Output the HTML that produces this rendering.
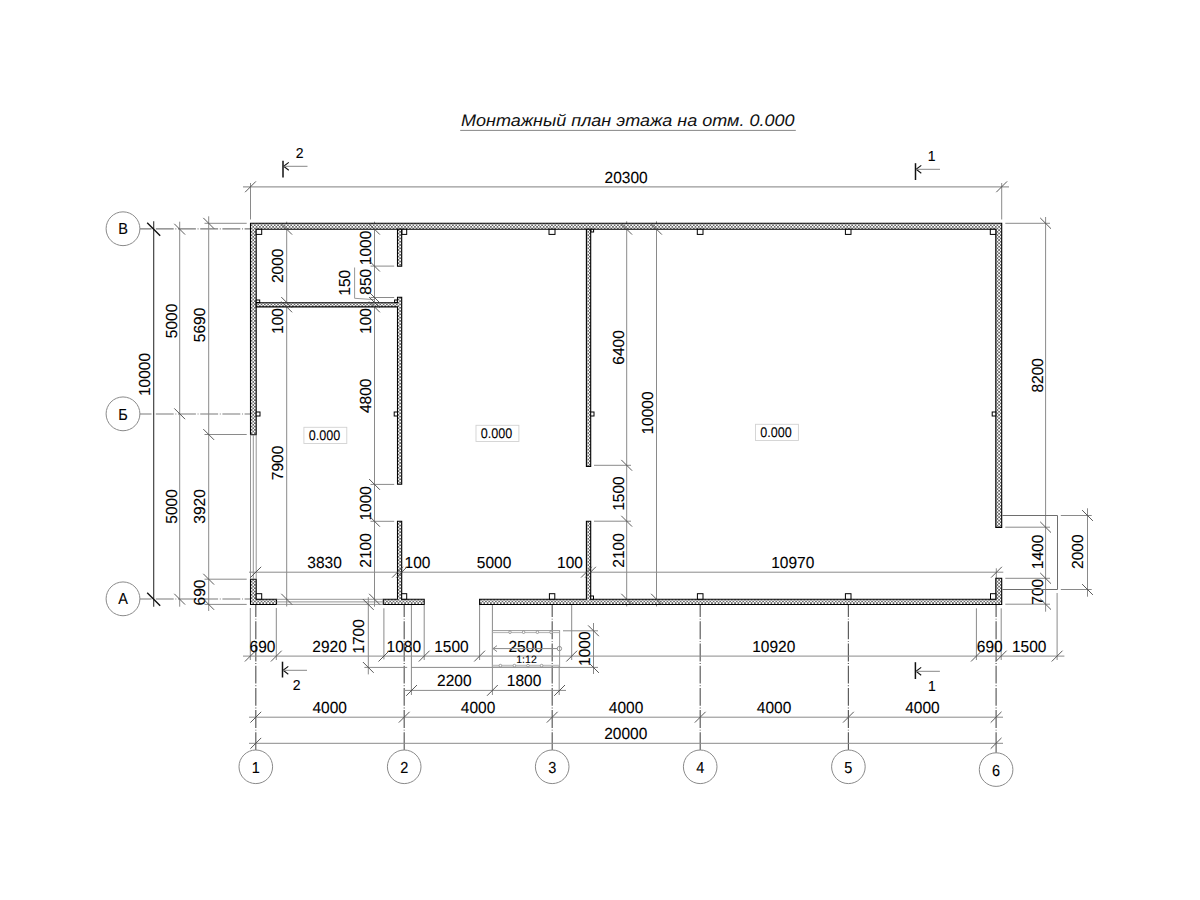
<!DOCTYPE html><html><head><meta charset="utf-8"><style>html,body{margin:0;padding:0;background:#fff;}svg{display:block;} text{font-family:"Liberation Sans",sans-serif;text-rendering:geometricPrecision;}</style></head><body>
<svg width="1200" height="900" viewBox="0 0 1200 900">
<defs><pattern id="hatch" width="3.3" height="3.3" patternUnits="userSpaceOnUse"><rect width="3.3" height="3.3" fill="#fff"/><rect x="0" y="0" width="1.65" height="1.65" fill="#6a6a6a"/><rect x="1.65" y="1.65" width="1.65" height="1.65" fill="#6a6a6a"/></pattern></defs>
<rect width="1200" height="900" fill="#fff"/>
<text x="461" y="125.8" font-size="16.7" font-style="italic" fill="#111" textLength="333.5" lengthAdjust="spacingAndGlyphs">Монтажный план этажа на отм. 0.000</text>
<line x1="460.2" y1="130.4" x2="795.8" y2="130.4" stroke="#888" stroke-width="1" />
<line x1="133.6" y1="228.9" x2="250" y2="228.9" stroke="#7a7a7a" stroke-width="1.2" stroke-dasharray="17.9 1.7 0.9 1.7"/>
<line x1="133.6" y1="414.0" x2="250" y2="414.0" stroke="#7a7a7a" stroke-width="1.2" stroke-dasharray="17.9 1.7 0.9 1.7"/>
<line x1="133.6" y1="599.0" x2="250" y2="599.0" stroke="#7a7a7a" stroke-width="1.2" stroke-dasharray="17.9 1.7 0.9 1.7"/>
<line x1="255.8" y1="599.1" x2="255.8" y2="743.3" stroke="#5e5e5e" stroke-width="1.2" stroke-dasharray="17.9 1.7 0.9 1.7"/>
<line x1="255.8" y1="743.3" x2="255.8" y2="753" stroke="#555" stroke-width="1.1" />
<line x1="404.2" y1="599.1" x2="404.2" y2="743.3" stroke="#5e5e5e" stroke-width="1.2" stroke-dasharray="17.9 1.7 0.9 1.7"/>
<line x1="404.2" y1="743.3" x2="404.2" y2="753" stroke="#555" stroke-width="1.1" />
<line x1="552.2" y1="599.1" x2="552.2" y2="743.3" stroke="#5e5e5e" stroke-width="1.2" stroke-dasharray="17.9 1.7 0.9 1.7"/>
<line x1="552.2" y1="743.3" x2="552.2" y2="753" stroke="#555" stroke-width="1.1" />
<line x1="700.2" y1="599.1" x2="700.2" y2="743.3" stroke="#5e5e5e" stroke-width="1.2" stroke-dasharray="17.9 1.7 0.9 1.7"/>
<line x1="700.2" y1="743.3" x2="700.2" y2="753" stroke="#555" stroke-width="1.1" />
<line x1="848.4" y1="599.1" x2="848.4" y2="743.3" stroke="#5e5e5e" stroke-width="1.2" stroke-dasharray="17.9 1.7 0.9 1.7"/>
<line x1="848.4" y1="743.3" x2="848.4" y2="753" stroke="#555" stroke-width="1.1" />
<line x1="996.1" y1="599.1" x2="996.1" y2="743.3" stroke="#5e5e5e" stroke-width="1.2" stroke-dasharray="17.9 1.7 0.9 1.7"/>
<line x1="996.1" y1="743.3" x2="996.1" y2="753" stroke="#555" stroke-width="1.1" />
<line x1="243" y1="186.8" x2="1009" y2="186.8" stroke="#999" stroke-width="1.3" />
<line x1="250.5" y1="183" x2="250.5" y2="219.5" stroke="#8a8a8a" stroke-width="1.0" />
<line x1="1001.7" y1="183" x2="1001.7" y2="219.5" stroke="#8a8a8a" stroke-width="1.0" />
<text transform="translate(626.1,183.2) scale(1,1.03)" font-size="15.5" text-anchor="middle" fill="#000" stroke="#000" stroke-width="0.1" >20300</text>
<line x1="153.7" y1="221.3" x2="153.7" y2="606.7" stroke="#333" stroke-width="1.1" />
<line x1="147.2" y1="222.7" x2="160.2" y2="235.7" stroke="#111" stroke-width="1.4" />
<line x1="147.2" y1="592.7" x2="160.2" y2="605.7" stroke="#111" stroke-width="1.4" />
<text transform="translate(150.2,374.5) rotate(-90) scale(1,1.03)" font-size="15.5" text-anchor="middle" fill="#000" stroke="#000" stroke-width="0.1">10000</text>
<line x1="179.7" y1="221.7" x2="179.7" y2="606.7" stroke="#8a8a8a" stroke-width="1.0" />
<text transform="translate(176.5,321) rotate(-90) scale(1,1.03)" font-size="15.5" text-anchor="middle" fill="#000" stroke="#000" stroke-width="0.1">5000</text>
<text transform="translate(176.5,506.5) rotate(-90) scale(1,1.03)" font-size="15.5" text-anchor="middle" fill="#000" stroke="#000" stroke-width="0.1">5000</text>
<line x1="208.7" y1="216.3" x2="208.7" y2="611" stroke="#8a8a8a" stroke-width="1.0" />
<line x1="204.5" y1="223.3" x2="246.7" y2="223.3" stroke="#8a8a8a" stroke-width="1.0" />
<line x1="204.5" y1="434.5" x2="246.7" y2="434.5" stroke="#8a8a8a" stroke-width="1.0" />
<line x1="204.5" y1="579.2" x2="246.7" y2="579.2" stroke="#8a8a8a" stroke-width="1.0" />
<line x1="204.5" y1="604.4" x2="246.7" y2="604.4" stroke="#8a8a8a" stroke-width="1.0" />
<text transform="translate(205,325) rotate(-90) scale(1,1.03)" font-size="15.5" text-anchor="middle" fill="#000" stroke="#000" stroke-width="0.1">5690</text>
<text transform="translate(205,506.5) rotate(-90) scale(1,1.03)" font-size="15.5" text-anchor="middle" fill="#000" stroke="#000" stroke-width="0.1">3920</text>
<text transform="translate(205,592.5) rotate(-90) scale(1,1.03)" font-size="15.5" text-anchor="middle" fill="#000" stroke="#000" stroke-width="0.1">690</text>
<line x1="286.7" y1="221.7" x2="286.7" y2="606.5" stroke="#8a8a8a" stroke-width="1.0" />
<text transform="translate(283.3,265.8) rotate(-90) scale(1,1.03)" font-size="15.5" text-anchor="middle" fill="#000" stroke="#000" stroke-width="0.1">2000</text>
<text transform="translate(283.3,321) rotate(-90) scale(1,1.03)" font-size="15.5" text-anchor="middle" fill="#000" stroke="#000" stroke-width="0.1">100</text>
<text transform="translate(283.3,463) rotate(-90) scale(1,1.03)" font-size="15.5" text-anchor="middle" fill="#000" stroke="#000" stroke-width="0.1">7900</text>
<line x1="374.5" y1="221.7" x2="374.5" y2="606.7" stroke="#8a8a8a" stroke-width="1.0" />
<line x1="370.5" y1="266.1" x2="394.2" y2="266.1" stroke="#8a8a8a" stroke-width="1.0" />
<line x1="370.5" y1="297.5" x2="394.2" y2="297.5" stroke="#8a8a8a" stroke-width="1.0" />
<line x1="370.5" y1="484.4" x2="394.2" y2="484.4" stroke="#8a8a8a" stroke-width="1.0" />
<line x1="370.5" y1="521.3" x2="394.2" y2="521.3" stroke="#8a8a8a" stroke-width="1.0" />
<polyline points="354.6,267.5 354.6,298.3 374.2,299.6" fill="none" stroke="#999" stroke-width="1"/>
<text transform="translate(370.8,248) rotate(-90) scale(1,1.03)" font-size="15.5" text-anchor="middle" fill="#000" stroke="#000" stroke-width="0.1">1000</text>
<text transform="translate(370.8,281.7) rotate(-90) scale(1,1.03)" font-size="15.5" text-anchor="middle" fill="#000" stroke="#000" stroke-width="0.1">850</text>
<text transform="translate(350.3,282.8) rotate(-90) scale(1,1.03)" font-size="15.5" text-anchor="middle" fill="#000" stroke="#000" stroke-width="0.1">150</text>
<text transform="translate(370.8,321) rotate(-90) scale(1,1.03)" font-size="15.5" text-anchor="middle" fill="#000" stroke="#000" stroke-width="0.1">100</text>
<text transform="translate(370.8,395.8) rotate(-90) scale(1,1.03)" font-size="15.5" text-anchor="middle" fill="#000" stroke="#000" stroke-width="0.1">4800</text>
<text transform="translate(370.8,503.3) rotate(-90) scale(1,1.03)" font-size="15.5" text-anchor="middle" fill="#000" stroke="#000" stroke-width="0.1">1000</text>
<text transform="translate(370.8,550.5) rotate(-90) scale(1,1.03)" font-size="15.5" text-anchor="middle" fill="#000" stroke="#000" stroke-width="0.1">2100</text>
<line x1="368.3" y1="597.2" x2="368.3" y2="674.4" stroke="#8a8a8a" stroke-width="1.0" />
<line x1="364.4" y1="667.4" x2="407.2" y2="667.4" stroke="#8a8a8a" stroke-width="1.0" />
<line x1="411" y1="667.4" x2="598" y2="667.4" stroke="#8a8a8a" stroke-width="1.0" />
<text transform="translate(364.4,636.4) rotate(-90) scale(1,1.03)" font-size="15.5" text-anchor="middle" fill="#000" stroke="#000" stroke-width="0.1">1700</text>
<line x1="626.7" y1="221.3" x2="626.7" y2="606.5" stroke="#8a8a8a" stroke-width="1.0" />
<line x1="594" y1="465.3" x2="631" y2="465.3" stroke="#8a8a8a" stroke-width="1.0" />
<line x1="594" y1="521.2" x2="631" y2="521.2" stroke="#8a8a8a" stroke-width="1.0" />
<text transform="translate(624,347.5) rotate(-90) scale(1,1.03)" font-size="15.5" text-anchor="middle" fill="#000" stroke="#000" stroke-width="0.1">6400</text>
<text transform="translate(623.5,493.6) rotate(-90) scale(1,1.03)" font-size="15.5" text-anchor="middle" fill="#000" stroke="#000" stroke-width="0.1">1500</text>
<text transform="translate(624,550.5) rotate(-90) scale(1,1.03)" font-size="15.5" text-anchor="middle" fill="#000" stroke="#000" stroke-width="0.1">2100</text>
<line x1="656.5" y1="221.3" x2="656.5" y2="606.5" stroke="#8a8a8a" stroke-width="1.0" />
<text transform="translate(653.3,413) rotate(-90) scale(1,1.03)" font-size="15.5" text-anchor="middle" fill="#000" stroke="#000" stroke-width="0.1">10000</text>
<line x1="1045.6" y1="217" x2="1045.6" y2="611.7" stroke="#8a8a8a" stroke-width="1.0" />
<line x1="1005.3" y1="223.3" x2="1050" y2="223.3" stroke="#8a8a8a" stroke-width="1.0" />
<line x1="1005.3" y1="527.2" x2="1050" y2="527.2" stroke="#8a8a8a" stroke-width="1.0" />
<line x1="1005.3" y1="578.3" x2="1050" y2="578.3" stroke="#8a8a8a" stroke-width="1.0" />
<line x1="1005.3" y1="604.2" x2="1050" y2="604.2" stroke="#8a8a8a" stroke-width="1.0" />
<text transform="translate(1042.5,375.3) rotate(-90) scale(1,1.03)" font-size="15.5" text-anchor="middle" fill="#000" stroke="#000" stroke-width="0.1">8200</text>
<text transform="translate(1042.5,552) rotate(-90) scale(1,1.03)" font-size="15.5" text-anchor="middle" fill="#000" stroke="#000" stroke-width="0.1">1400</text>
<text transform="translate(1042.5,591.7) rotate(-90) scale(1,1.03)" font-size="15.5" text-anchor="middle" fill="#000" stroke="#000" stroke-width="0.1">700</text>
<polyline points="1002.5,515.5 1057.5,515.5 1057.5,589.5 1002.5,589.5" fill="none" stroke="#6e6e6e" stroke-width="1"/>
<line x1="1087.5" y1="508.3" x2="1087.5" y2="596.7" stroke="#8a8a8a" stroke-width="1.0" />
<line x1="1060.8" y1="515.5" x2="1091.7" y2="515.5" stroke="#8a8a8a" stroke-width="1.0" />
<line x1="1060.8" y1="589.5" x2="1091.7" y2="589.5" stroke="#8a8a8a" stroke-width="1.0" />
<text transform="translate(1083.3,551.7) rotate(-90) scale(1,1.03)" font-size="15.5" text-anchor="middle" fill="#000" stroke="#000" stroke-width="0.1">2000</text>
<line x1="249" y1="572.2" x2="1003.3" y2="572.2" stroke="#8a8a8a" stroke-width="1.0" />
<line x1="996.3" y1="568.3" x2="996.3" y2="578" stroke="#8a8a8a" stroke-width="1.0" />
<text transform="translate(324.6,568) scale(1,1.03)" font-size="15.5" text-anchor="middle" fill="#000" stroke="#000" stroke-width="0.1" >3830</text>
<text transform="translate(417.5,568) scale(1,1.03)" font-size="15.5" text-anchor="middle" fill="#000" stroke="#000" stroke-width="0.1" >100</text>
<text transform="translate(494,568.3) scale(1,1.03)" font-size="15.5" text-anchor="middle" fill="#000" stroke="#000" stroke-width="0.1" >5000</text>
<text transform="translate(570,568) scale(1,1.03)" font-size="15.5" text-anchor="middle" fill="#000" stroke="#000" stroke-width="0.1" >100</text>
<text transform="translate(792.8,568) scale(1,1.03)" font-size="15.5" text-anchor="middle" fill="#000" stroke="#000" stroke-width="0.1" >10970</text>
<line x1="243" y1="656.1" x2="1064.4" y2="656.1" stroke="#8a8a8a" stroke-width="1.0" />
<line x1="250.3" y1="608" x2="250.3" y2="660" stroke="#8a8a8a" stroke-width="1.0" />
<line x1="276.3" y1="608" x2="276.3" y2="660" stroke="#8a8a8a" stroke-width="1.0" />
<line x1="383.9" y1="608.3" x2="383.9" y2="659.4" stroke="#8a8a8a" stroke-width="1.0" />
<line x1="411.4" y1="605" x2="411.4" y2="695" stroke="#8a8a8a" stroke-width="1.0" />
<line x1="424.2" y1="605" x2="424.2" y2="660" stroke="#8a8a8a" stroke-width="1.0" />
<line x1="479.6" y1="605" x2="479.6" y2="660" stroke="#8a8a8a" stroke-width="1.0" />
<line x1="492.4" y1="605" x2="492.4" y2="695" stroke="#8a8a8a" stroke-width="1.0" />
<line x1="571.7" y1="605" x2="571.7" y2="660" stroke="#8a8a8a" stroke-width="1.0" />
<line x1="976.4" y1="608.3" x2="976.4" y2="660" stroke="#8a8a8a" stroke-width="1.0" />
<line x1="1001.2" y1="608.3" x2="1001.2" y2="660" stroke="#8a8a8a" stroke-width="1.0" />
<line x1="1057.1" y1="593" x2="1057.1" y2="660" stroke="#8a8a8a" stroke-width="1.0" />
<text transform="translate(262.5,651.7) scale(1,1.03)" font-size="15.5" text-anchor="middle" fill="#000" stroke="#000" stroke-width="0.1" >690</text>
<text transform="translate(329.6,651.7) scale(1,1.03)" font-size="15.5" text-anchor="middle" fill="#000" stroke="#000" stroke-width="0.1" >2920</text>
<text transform="translate(403.8,652) scale(1,1.03)" font-size="15.5" text-anchor="middle" fill="#000" stroke="#000" stroke-width="0.1" >1080</text>
<text transform="translate(451.4,652) scale(1,1.03)" font-size="15.5" text-anchor="middle" fill="#000" stroke="#000" stroke-width="0.1" >1500</text>
<text transform="translate(525.7,652) scale(1,1.03)" font-size="15.5" text-anchor="middle" fill="#000" stroke="#000" stroke-width="0.1" >2500</text>
<text transform="translate(773.7,652) scale(1,1.03)" font-size="15.5" text-anchor="middle" fill="#000" stroke="#000" stroke-width="0.1" >10920</text>
<text transform="translate(989.7,652) scale(1,1.03)" font-size="15.5" text-anchor="middle" fill="#000" stroke="#000" stroke-width="0.1" >690</text>
<text transform="translate(1029.2,652) scale(1,1.03)" font-size="15.5" text-anchor="middle" fill="#000" stroke="#000" stroke-width="0.1" >1500</text>
<line x1="404" y1="690.4" x2="566" y2="690.4" stroke="#8a8a8a" stroke-width="1.0" />
<line x1="559.2" y1="666" x2="559.2" y2="695" stroke="#8a8a8a" stroke-width="1.0" />
<text transform="translate(454.3,686) scale(1,1.03)" font-size="15.5" text-anchor="middle" fill="#000" stroke="#000" stroke-width="0.1" >2200</text>
<text transform="translate(524,686) scale(1,1.03)" font-size="15.5" text-anchor="middle" fill="#000" stroke="#000" stroke-width="0.1" >1800</text>
<line x1="249" y1="717.2" x2="1003" y2="717.2" stroke="#8a8a8a" stroke-width="1.0" />
<text transform="translate(329.7,713.4) scale(1,1.03)" font-size="15.5" text-anchor="middle" fill="#000" stroke="#000" stroke-width="0.1" >4000</text>
<text transform="translate(478,713.4) scale(1,1.03)" font-size="15.5" text-anchor="middle" fill="#000" stroke="#000" stroke-width="0.1" >4000</text>
<text transform="translate(626,713.4) scale(1,1.03)" font-size="15.5" text-anchor="middle" fill="#000" stroke="#000" stroke-width="0.1" >4000</text>
<text transform="translate(774,713.4) scale(1,1.03)" font-size="15.5" text-anchor="middle" fill="#000" stroke="#000" stroke-width="0.1" >4000</text>
<text transform="translate(922.4,713.4) scale(1,1.03)" font-size="15.5" text-anchor="middle" fill="#000" stroke="#000" stroke-width="0.1" >4000</text>
<line x1="249" y1="743.3" x2="1003" y2="743.3" stroke="#8a8a8a" stroke-width="1.0" />
<text transform="translate(625.8,739.3) scale(1,1.03)" font-size="15.5" text-anchor="middle" fill="#000" stroke="#000" stroke-width="0.1" >20000</text>
<rect x="492.4" y="630.6" width="67.2" height="36.5" fill="none" stroke="#999" stroke-width="1"/>
<line x1="492.4" y1="632.6" x2="559.6" y2="632.6" stroke="#aaa" stroke-width="0.9" />
<line x1="492.4" y1="665.3" x2="559.6" y2="665.3" stroke="#aaa" stroke-width="0.9" />
<circle cx="510" cy="632.2" r="1.3" fill="#fff" stroke="#888" stroke-width="0.8"/>
<circle cx="523.6" cy="632.2" r="1.3" fill="#fff" stroke="#888" stroke-width="0.8"/>
<circle cx="537.4" cy="632.2" r="1.3" fill="#fff" stroke="#888" stroke-width="0.8"/>
<circle cx="551" cy="632.2" r="1.3" fill="#fff" stroke="#888" stroke-width="0.8"/>
<circle cx="500.4" cy="665.6" r="1.3" fill="#fff" stroke="#888" stroke-width="0.8"/>
<circle cx="514.4" cy="665.6" r="1.3" fill="#fff" stroke="#888" stroke-width="0.8"/>
<circle cx="528" cy="665.6" r="1.3" fill="#fff" stroke="#888" stroke-width="0.8"/>
<circle cx="541.6" cy="665.6" r="1.3" fill="#fff" stroke="#888" stroke-width="0.8"/>
<line x1="493" y1="648.6" x2="557.5" y2="648.6" stroke="#888" stroke-width="1.0" />
<polyline points="497,645.6 493,648.6 497,651.6" fill="none" stroke="#888" stroke-width="1"/>
<circle cx="559.4" cy="648.6" r="2.2" fill="none" stroke="#888" stroke-width="0.9"/>
<text transform="translate(526.5,663) scale(1,1.03)" font-size="10.5" text-anchor="middle" fill="#000" stroke="#000" stroke-width="0.1" >1:12</text>
<line x1="593.5" y1="623" x2="593.5" y2="674" stroke="#8a8a8a" stroke-width="1.0" />
<line x1="563" y1="630.8" x2="598" y2="630.8" stroke="#8a8a8a" stroke-width="1.0" />
<text transform="translate(590.4,648.7) rotate(-90) scale(1,1.03)" font-size="15.5" text-anchor="middle" fill="#000" stroke="#000" stroke-width="0.1">1000</text>
<polygon points="250.5,223.3 1001.7,223.3 1001.7,527.4 995.8,527.4 995.8,229.3 256.2,229.3 256.2,434.7 250.5,434.7" fill="url(#hatch)" stroke="#000" stroke-width="1.1"/>
<polygon points="250.5,579.2 256.2,579.2 256.2,599.2 276.5,599.2 276.5,604.5 250.5,604.5" fill="url(#hatch)" stroke="#000" stroke-width="1.1"/>
<polygon points="256.2,302.8 397.5,302.8 397.5,297.3 401.7,297.3 401.7,484.2 397.5,484.2 397.5,306.9 256.2,306.9" fill="url(#hatch)" stroke="#000" stroke-width="1.1"/>
<polygon points="397.5,229.3 401.7,229.3 401.7,266.3 397.5,266.3" fill="url(#hatch)" stroke="#000" stroke-width="1.1"/>
<polygon points="383.3,599.2 397.5,599.2 397.5,521.3 401.7,521.3 401.7,599.2 424.2,599.2 424.2,604.5 383.3,604.5" fill="url(#hatch)" stroke="#000" stroke-width="1.1"/>
<polygon points="479.6,599.2 586.4,599.2 586.4,521.2 590.7,521.2 590.7,599.2 995.8,599.2 995.8,578.3 1001.7,578.3 1001.7,604.5 479.6,604.5" fill="url(#hatch)" stroke="#000" stroke-width="1.1"/>
<polygon points="586.4,229.3 590.7,229.3 590.7,466.4 586.4,466.4" fill="url(#hatch)" stroke="#000" stroke-width="1.1"/>
<line x1="250.5" y1="434.7" x2="250.5" y2="579.2" stroke="#888" stroke-width="0.9" />
<line x1="253.3" y1="434.7" x2="253.3" y2="579.2" stroke="#888" stroke-width="0.9" />
<line x1="256.2" y1="434.7" x2="256.2" y2="579.2" stroke="#888" stroke-width="0.9" />
<line x1="276.5" y1="599.3" x2="383.3" y2="599.3" stroke="#888" stroke-width="0.9" />
<line x1="276.5" y1="601.9" x2="383.3" y2="601.9" stroke="#888" stroke-width="0.9" />
<line x1="276.5" y1="604.4" x2="383.3" y2="604.4" stroke="#888" stroke-width="0.9" />
<rect x="256.2" y="229.3" width="5.5" height="5.1" fill="#fff" stroke="#000" stroke-width="1"/>
<rect x="402" y="229.3" width="4.7" height="5.1" fill="#fff" stroke="#000" stroke-width="1"/>
<rect x="549" y="229.3" width="6" height="5.1" fill="#fff" stroke="#000" stroke-width="1"/>
<rect x="697.3" y="229.3" width="5.7" height="5.1" fill="#fff" stroke="#000" stroke-width="1"/>
<rect x="845.4" y="229.3" width="5.6" height="5.1" fill="#fff" stroke="#000" stroke-width="1"/>
<rect x="990.3" y="229.3" width="5.5" height="5.1" fill="#fff" stroke="#000" stroke-width="1"/>
<rect x="591" y="229.3" width="2.6" height="2.7" fill="#fff" stroke="#000" stroke-width="1"/>
<rect x="256.2" y="593.7" width="5.5" height="5.5" fill="#fff" stroke="#000" stroke-width="1"/>
<rect x="401.7" y="593.7" width="5.0" height="5.5" fill="#fff" stroke="#000" stroke-width="1"/>
<rect x="549.4" y="593.7" width="5.4" height="5.5" fill="#fff" stroke="#000" stroke-width="1"/>
<rect x="697.4" y="593.7" width="5.6" height="5.5" fill="#fff" stroke="#000" stroke-width="1"/>
<rect x="845.4" y="593.7" width="5.6" height="5.5" fill="#fff" stroke="#000" stroke-width="1"/>
<rect x="990.5" y="593.7" width="5.3" height="5.5" fill="#fff" stroke="#000" stroke-width="1"/>
<rect x="590.7" y="596" width="2.8" height="3.2" fill="#fff" stroke="#000" stroke-width="1"/>
<rect x="256.2" y="412" width="3.8" height="4" fill="#fff" stroke="#000" stroke-width="1"/>
<rect x="394.2" y="412" width="3.3" height="4" fill="#fff" stroke="#000" stroke-width="1"/>
<rect x="590.7" y="412" width="3.3" height="4" fill="#fff" stroke="#000" stroke-width="1"/>
<rect x="992.2" y="412" width="3.6" height="4" fill="#fff" stroke="#000" stroke-width="1"/>
<rect x="256.2" y="300" width="3.5" height="2.5" fill="#fff" stroke="#000" stroke-width="1"/>
<rect x="394.6" y="300" width="2.7" height="2.5" fill="#fff" stroke="#000" stroke-width="1"/>
<line x1="245.1" y1="192.20000000000002" x2="255.9" y2="181.4" stroke="#474747" stroke-width="0.9"/>
<line x1="996.3000000000001" y1="192.20000000000002" x2="1007.1" y2="181.4" stroke="#474747" stroke-width="0.9"/>
<line x1="174.29999999999998" y1="223.79999999999998" x2="185.1" y2="234.6" stroke="#474747" stroke-width="0.9"/>
<line x1="174.29999999999998" y1="408.40000000000003" x2="185.1" y2="419.2" stroke="#474747" stroke-width="0.9"/>
<line x1="174.29999999999998" y1="593.8000000000001" x2="185.1" y2="604.6" stroke="#474747" stroke-width="0.9"/>
<line x1="203.29999999999998" y1="217.9" x2="214.1" y2="228.70000000000002" stroke="#474747" stroke-width="0.9"/>
<line x1="203.29999999999998" y1="429.1" x2="214.1" y2="439.9" stroke="#474747" stroke-width="0.9"/>
<line x1="203.29999999999998" y1="573.8000000000001" x2="214.1" y2="584.6" stroke="#474747" stroke-width="0.9"/>
<line x1="203.29999999999998" y1="599.0" x2="214.1" y2="609.8" stroke="#474747" stroke-width="0.9"/>
<line x1="281.3" y1="223.79999999999998" x2="292.09999999999997" y2="234.6" stroke="#474747" stroke-width="0.9"/>
<line x1="281.3" y1="297.1" x2="292.09999999999997" y2="307.9" stroke="#474747" stroke-width="0.9"/>
<line x1="281.3" y1="301.5" x2="292.09999999999997" y2="312.29999999999995" stroke="#474747" stroke-width="0.9"/>
<line x1="281.3" y1="593.8000000000001" x2="292.09999999999997" y2="604.6" stroke="#474747" stroke-width="0.9"/>
<line x1="369.1" y1="223.79999999999998" x2="379.9" y2="234.6" stroke="#474747" stroke-width="0.9"/>
<line x1="369.1" y1="260.70000000000005" x2="379.9" y2="271.5" stroke="#474747" stroke-width="0.9"/>
<line x1="369.1" y1="292.1" x2="379.9" y2="302.9" stroke="#474747" stroke-width="0.9"/>
<line x1="369.1" y1="297.1" x2="379.9" y2="307.9" stroke="#474747" stroke-width="0.9"/>
<line x1="369.1" y1="301.5" x2="379.9" y2="312.29999999999995" stroke="#474747" stroke-width="0.9"/>
<line x1="369.1" y1="479.0" x2="379.9" y2="489.79999999999995" stroke="#474747" stroke-width="0.9"/>
<line x1="369.1" y1="515.9" x2="379.9" y2="526.6999999999999" stroke="#474747" stroke-width="0.9"/>
<line x1="369.1" y1="593.8000000000001" x2="379.9" y2="604.6" stroke="#474747" stroke-width="0.9"/>
<line x1="362.90000000000003" y1="599.1" x2="373.7" y2="609.9" stroke="#474747" stroke-width="0.9"/>
<line x1="362.90000000000003" y1="662.0" x2="373.7" y2="672.8" stroke="#474747" stroke-width="0.9"/>
<line x1="621.3000000000001" y1="223.79999999999998" x2="632.1" y2="234.6" stroke="#474747" stroke-width="0.9"/>
<line x1="621.3000000000001" y1="459.90000000000003" x2="632.1" y2="470.7" stroke="#474747" stroke-width="0.9"/>
<line x1="621.3000000000001" y1="515.8000000000001" x2="632.1" y2="526.6" stroke="#474747" stroke-width="0.9"/>
<line x1="621.3000000000001" y1="593.8000000000001" x2="632.1" y2="604.6" stroke="#474747" stroke-width="0.9"/>
<line x1="651.1" y1="223.79999999999998" x2="661.9" y2="234.6" stroke="#474747" stroke-width="0.9"/>
<line x1="651.1" y1="593.8000000000001" x2="661.9" y2="604.6" stroke="#474747" stroke-width="0.9"/>
<line x1="1040.1999999999998" y1="217.9" x2="1051.0" y2="228.70000000000002" stroke="#474747" stroke-width="0.9"/>
<line x1="1040.1999999999998" y1="521.8000000000001" x2="1051.0" y2="532.6" stroke="#474747" stroke-width="0.9"/>
<line x1="1040.1999999999998" y1="572.9" x2="1051.0" y2="583.6999999999999" stroke="#474747" stroke-width="0.9"/>
<line x1="1040.1999999999998" y1="598.8000000000001" x2="1051.0" y2="609.6" stroke="#474747" stroke-width="0.9"/>
<line x1="1082.1" y1="510.1" x2="1092.9" y2="520.9" stroke="#474747" stroke-width="0.9"/>
<line x1="1082.1" y1="584.1" x2="1092.9" y2="594.9" stroke="#474747" stroke-width="0.9"/>
<line x1="250.4" y1="577.6" x2="261.2" y2="566.8000000000001" stroke="#474747" stroke-width="0.9"/>
<line x1="392.1" y1="577.6" x2="402.9" y2="566.8000000000001" stroke="#474747" stroke-width="0.9"/>
<line x1="396.3" y1="577.6" x2="407.09999999999997" y2="566.8000000000001" stroke="#474747" stroke-width="0.9"/>
<line x1="581.0" y1="577.6" x2="591.8" y2="566.8000000000001" stroke="#474747" stroke-width="0.9"/>
<line x1="585.1" y1="577.6" x2="595.9" y2="566.8000000000001" stroke="#474747" stroke-width="0.9"/>
<line x1="991.1" y1="577.6" x2="1001.9" y2="566.8000000000001" stroke="#474747" stroke-width="0.9"/>
<line x1="244.9" y1="661.5" x2="255.70000000000002" y2="650.7" stroke="#474747" stroke-width="0.9"/>
<line x1="270.90000000000003" y1="661.5" x2="281.7" y2="650.7" stroke="#474747" stroke-width="0.9"/>
<line x1="378.5" y1="661.5" x2="389.29999999999995" y2="650.7" stroke="#474747" stroke-width="0.9"/>
<line x1="418.8" y1="661.5" x2="429.59999999999997" y2="650.7" stroke="#474747" stroke-width="0.9"/>
<line x1="474.20000000000005" y1="661.5" x2="485.0" y2="650.7" stroke="#474747" stroke-width="0.9"/>
<line x1="566.3000000000001" y1="661.5" x2="577.1" y2="650.7" stroke="#474747" stroke-width="0.9"/>
<line x1="971.0" y1="661.5" x2="981.8" y2="650.7" stroke="#474747" stroke-width="0.9"/>
<line x1="995.8000000000001" y1="661.5" x2="1006.6" y2="650.7" stroke="#474747" stroke-width="0.9"/>
<line x1="1051.6999999999998" y1="661.5" x2="1062.5" y2="650.7" stroke="#474747" stroke-width="0.9"/>
<line x1="406.20000000000005" y1="695.8" x2="417.0" y2="685.0" stroke="#474747" stroke-width="0.9"/>
<line x1="487.0" y1="695.8" x2="497.79999999999995" y2="685.0" stroke="#474747" stroke-width="0.9"/>
<line x1="554.2" y1="695.8" x2="565.0" y2="685.0" stroke="#474747" stroke-width="0.9"/>
<line x1="250.4" y1="722.6" x2="261.2" y2="711.8000000000001" stroke="#474747" stroke-width="0.9"/>
<line x1="398.8" y1="722.6" x2="409.59999999999997" y2="711.8000000000001" stroke="#474747" stroke-width="0.9"/>
<line x1="546.8000000000001" y1="722.6" x2="557.6" y2="711.8000000000001" stroke="#474747" stroke-width="0.9"/>
<line x1="694.8000000000001" y1="722.6" x2="705.6" y2="711.8000000000001" stroke="#474747" stroke-width="0.9"/>
<line x1="843.0" y1="722.6" x2="853.8" y2="711.8000000000001" stroke="#474747" stroke-width="0.9"/>
<line x1="990.7" y1="722.6" x2="1001.5" y2="711.8000000000001" stroke="#474747" stroke-width="0.9"/>
<line x1="250.4" y1="748.6999999999999" x2="261.2" y2="737.9" stroke="#474747" stroke-width="0.9"/>
<line x1="990.7" y1="748.6999999999999" x2="1001.5" y2="737.9" stroke="#474747" stroke-width="0.9"/>
<line x1="588.1" y1="625.4" x2="598.9" y2="636.1999999999999" stroke="#474747" stroke-width="0.9"/>
<line x1="588.1" y1="662.1" x2="598.9" y2="672.9" stroke="#474747" stroke-width="0.9"/>
<circle cx="123.0" cy="228.75" r="16.9" fill="#fff" stroke="#8a8a8a" stroke-width="1"/>
<text transform="translate(123.0,234.15) scale(1,1.1)" font-size="14.5" text-anchor="middle" fill="#000" stroke="#000" stroke-width="0.1" >В</text>
<circle cx="123.0" cy="413.85" r="16.9" fill="#fff" stroke="#8a8a8a" stroke-width="1"/>
<text transform="translate(123.0,420.45000000000005) scale(1,1.1)" font-size="14.5" text-anchor="middle" fill="#000" stroke="#000" stroke-width="0.1" >Б</text>
<circle cx="123.0" cy="598.85" r="16.9" fill="#fff" stroke="#8a8a8a" stroke-width="1"/>
<text transform="translate(123.0,604.25) scale(1,1.1)" font-size="14.5" text-anchor="middle" fill="#000" stroke="#000" stroke-width="0.1" >А</text>
<circle cx="255.8" cy="766.8" r="16.8" fill="#fff" stroke="#8a8a8a" stroke-width="1"/>
<text transform="translate(255.8,772.6999999999999) scale(1,1.1)" font-size="14.5" text-anchor="middle" fill="#000" stroke="#000" stroke-width="0.1" >1</text>
<circle cx="404.2" cy="766.8" r="16.8" fill="#fff" stroke="#8a8a8a" stroke-width="1"/>
<text transform="translate(404.2,772.6999999999999) scale(1,1.1)" font-size="14.5" text-anchor="middle" fill="#000" stroke="#000" stroke-width="0.1" >2</text>
<circle cx="552.2" cy="766.8" r="16.8" fill="#fff" stroke="#8a8a8a" stroke-width="1"/>
<text transform="translate(552.2,772.6999999999999) scale(1,1.1)" font-size="14.5" text-anchor="middle" fill="#000" stroke="#000" stroke-width="0.1" >3</text>
<circle cx="700.2" cy="766.8" r="16.8" fill="#fff" stroke="#8a8a8a" stroke-width="1"/>
<text transform="translate(700.2,772.6999999999999) scale(1,1.1)" font-size="14.5" text-anchor="middle" fill="#000" stroke="#000" stroke-width="0.1" >4</text>
<circle cx="848.4" cy="766.8" r="16.8" fill="#fff" stroke="#8a8a8a" stroke-width="1"/>
<text transform="translate(848.4,772.6999999999999) scale(1,1.1)" font-size="14.5" text-anchor="middle" fill="#000" stroke="#000" stroke-width="0.1" >5</text>
<circle cx="996.1" cy="769.6" r="16.8" fill="#fff" stroke="#8a8a8a" stroke-width="1"/>
<text transform="translate(996.1,775.5) scale(1,1.1)" font-size="14.5" text-anchor="middle" fill="#000" stroke="#000" stroke-width="0.1" >6</text>
<line x1="283" y1="160.8" x2="283" y2="177.5" stroke="#111" stroke-width="1.5" />
<polyline points="288.8,162.4 283.6,166.3 288.8,170.20000000000002" fill="none" stroke="#111" stroke-width="1.1"/>
<line x1="283.6" y1="166.3" x2="307.5" y2="166.3" stroke="#888" stroke-width="1" />
<text transform="translate(299.7,157.8) scale(1,1.03)" font-size="14" text-anchor="middle" fill="#000" stroke="#000" stroke-width="0.1" >2</text>
<line x1="915.5" y1="163.2" x2="915.5" y2="180" stroke="#111" stroke-width="1.5" />
<polyline points="921.3,165.4 916.1,169.3 921.3,173.20000000000002" fill="none" stroke="#111" stroke-width="1.1"/>
<line x1="916.1" y1="169.3" x2="940.0" y2="169.3" stroke="#888" stroke-width="1" />
<text transform="translate(931.6,160.5) scale(1,1.03)" font-size="14" text-anchor="middle" fill="#000" stroke="#000" stroke-width="0.1" >1</text>
<line x1="282.5" y1="661.7" x2="282.5" y2="677.5" stroke="#111" stroke-width="1.5" />
<polyline points="288.3,666.4 283.1,670.3 288.3,674.1999999999999" fill="none" stroke="#111" stroke-width="1.1"/>
<line x1="283.1" y1="670.3" x2="307.0" y2="670.3" stroke="#888" stroke-width="1" />
<text transform="translate(296.7,690) scale(1,1.03)" font-size="14" text-anchor="middle" fill="#000" stroke="#000" stroke-width="0.1" >2</text>
<line x1="915.4" y1="662.2" x2="915.4" y2="679" stroke="#111" stroke-width="1.5" />
<polyline points="921.1999999999999,667.4 916.0,671.3 921.1999999999999,675.1999999999999" fill="none" stroke="#111" stroke-width="1.1"/>
<line x1="916.0" y1="671.3" x2="939.9" y2="671.3" stroke="#888" stroke-width="1" />
<text transform="translate(932,690.6) scale(1,1.03)" font-size="14" text-anchor="middle" fill="#000" stroke="#000" stroke-width="0.1" >1</text>
<rect x="303.9" y="427.3" width="42.9" height="16.2" fill="#fff" stroke="#d2d2d2" stroke-width="0.9"/>
<text transform="translate(324.5,440.0) scale(1,1.1)" font-size="12.6" text-anchor="middle" fill="#000" stroke="#000" stroke-width="0.1" >0.000</text>
<rect x="476" y="425.3" width="42.9" height="16.2" fill="#fff" stroke="#d2d2d2" stroke-width="0.9"/>
<text transform="translate(496.4,438.0) scale(1,1.1)" font-size="12.6" text-anchor="middle" fill="#000" stroke="#000" stroke-width="0.1" >0.000</text>
<rect x="755.5" y="424.3" width="42.9" height="16.2" fill="#fff" stroke="#d2d2d2" stroke-width="0.9"/>
<text transform="translate(776.1,437.0) scale(1,1.1)" font-size="12.6" text-anchor="middle" fill="#000" stroke="#000" stroke-width="0.1" >0.000</text>
</svg></body></html>
